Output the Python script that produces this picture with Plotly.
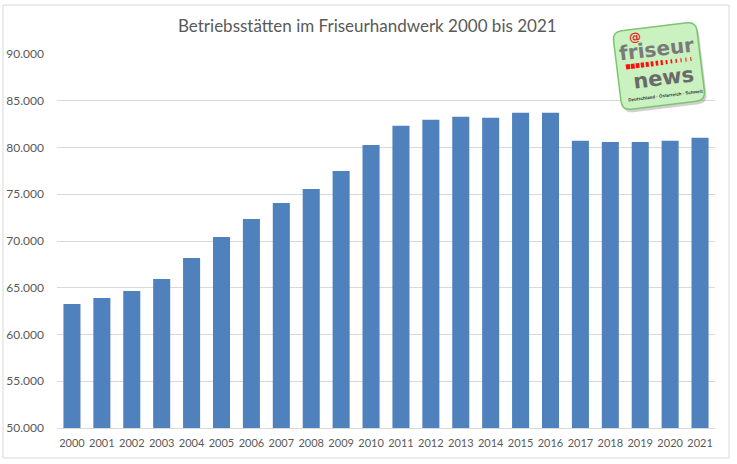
import math
import plotly.graph_objects as go

# ---- data ----
years = [str(y) for y in range(2000, 2022)]
betriebe = [63250, 63900, 64650, 65930, 68180, 70430, 72360, 74070, 75570, 77500,
            80280, 82320, 82960, 83280, 83180, 83710, 83710, 80710, 80600, 80600,
            80710, 81030]
title_text = "Betriebsstätten im Friseurhandwerk 2000 bis 2021"
logo_at = "@"
logo_top = "friseur"
logo_bottom = "news"
logo_small = "Deutschland · Österreich · Schweiz"

W, H = 737, 464
ML, MR, MT, MB = 57, 22, 54, 36
PW, PH = W - ML - MR, H - MT - MB

FONT = "Lato, Carlito, Calibri, sans-serif"
GREY = "#595959"


def px(x):
    return (x - ML) / PW


def py(y):
    return 1 - (y - MT) / PH


fig = go.Figure()
fig.add_trace(go.Bar(x=years, y=betriebe, marker=dict(color="#4f81bd", line=dict(width=0)),
                     hoverinfo="x+y"))

shapes = []
# outer chart border
shapes.append(dict(type="rect", xref="paper", yref="paper",
                   x0=px(3), x1=px(729), y0=py(458), y1=py(5),
                   line=dict(color="#d9d9d9", width=1), fillcolor="rgba(0,0,0,0)", layer="below"))

# ---- logo ----
cx, cy = 659, 66
lw, lh = 84, 79
ang = math.radians(-7)
rr = 9


def rot(dx, dy):
    return (cx + dx * math.cos(ang) - dy * math.sin(ang),
            cy + dx * math.sin(ang) + dy * math.cos(ang))


def rounded_path(ox=0, oy=0):
    hw, hh = lw / 2, lh / 2
    seq = [
        ("M", (-hw + rr, -hh)),
        ("L", (hw - rr, -hh)), ("Q", (hw, -hh), (hw, -hh + rr)),
        ("L", (hw, hh - rr)), ("Q", (hw, hh), (hw - rr, hh)),
        ("L", (-hw + rr, hh)), ("Q", (-hw, hh), (-hw, hh - rr)),
        ("L", (-hw, -hh + rr)), ("Q", (-hw, -hh), (-hw + rr, -hh)),
    ]
    s = ""
    for item in seq:
        cmd = item[0]
        coords = []
        for (dx, dy) in item[1:]:
            X, Y = rot(dx, dy)
            coords.append(f"{px(X + ox):.5f},{py(Y + oy):.5f}")
        s += cmd + " " + " ".join(coords) + " "
    return s + "Z"


# shadow
shapes.append(dict(type="path", xref="paper", yref="paper", path=rounded_path(2, 3),
                   fillcolor="rgba(120,120,120,0.35)", line=dict(width=0)))
shapes.append(dict(type="path", xref="paper", yref="paper", path=rounded_path(),
                   fillcolor="#c9f2c0", line=dict(color="#7cc470", width=1.5)))

# red bar segments
n_seg = 14
for i in range(n_seg):
    x0 = -33 + i * 5.0
    w = max(4.2 - i * 0.28, 1.0)
    hgt = 5 if i < 8 else 4
    dy = -3
    corners = [rot(x0, dy - hgt / 2), rot(x0 + w, dy - hgt / 2),
               rot(x0 + w, dy + hgt / 2), rot(x0, dy + hgt / 2)]
    path = "M " + " L ".join(f"{px(a):.5f},{py(b):.5f}" for a, b in corners) + " Z"
    shapes.append(dict(type="path", xref="paper", yref="paper", path=path,
                       fillcolor="#ff1010", line=dict(width=0)))

annotations = []


def ann(text, dx, dy, size, color, weight="normal", family="Arial Black, DejaVu Sans, sans-serif"):
    X, Y = rot(dx, dy)
    annotations.append(dict(text=text, x=px(X), y=py(Y), xref="paper", yref="paper",
                            showarrow=False, textangle=-7,
                            font=dict(size=size, color=color, family=family, weight=weight),
                            xanchor="center", yanchor="middle"))


ann(logo_at, -20, -32, 12, "#e8242a", "bold")
ann(logo_top, 0, -17, 20, "#7a7a7a", "bold")
ann(logo_bottom, 3, 12, 21, "#6a6a6a", "bold")
ann(logo_small, 3, 30, 4.5, "#333333", "bold", "Arial, sans-serif")

# title
annotations.append(dict(text=title_text, x=px(367), y=py(26), xref="paper", yref="paper",
                        showarrow=False, xanchor="center", yanchor="middle",
                        font=dict(size=17, color=GREY, family=FONT)))

fig.update_layout(
    width=W, height=H,
    margin=dict(l=ML, r=MR, t=MT, b=MB, autoexpand=False),
    paper_bgcolor="white", plot_bgcolor="white",
    separators=",.",
    showlegend=False,
    bargap=0.43,
    font=dict(family=FONT, color=GREY, size=12),
    shapes=shapes,
    annotations=annotations,
    xaxis=dict(type="category", showgrid=False, showline=True, linecolor="#d9d9d9",
               linewidth=1, ticks="outside", ticklen=5, tickcolor="rgba(0,0,0,0)",
               tickangle=0, automargin=False,
               tickfont=dict(size=11, color=GREY), fixedrange=True),
    yaxis=dict(range=[50000, 90000], dtick=5000, tickformat=",d", showgrid=True,
               gridcolor="#d9d9d9", gridwidth=1, zeroline=False, showline=False,
               ticks="", ticklabelstandoff=12, automargin=False,
               tickfont=dict(size=12, color=GREY), fixedrange=True),
)

fig.write_html("out.html")
